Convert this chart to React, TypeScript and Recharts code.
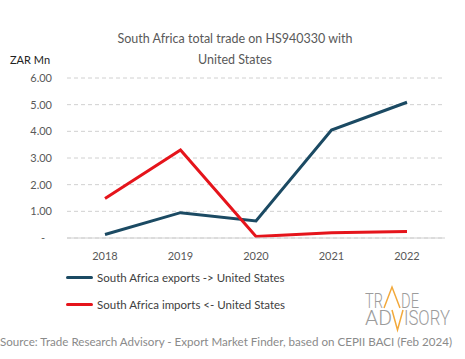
import { CartesianGrid, Line, LineChart, XAxis, YAxis } from "recharts";

const years = ["2018", "2019", "2020", "2021", "2022"];
const exportsToUS = [0.13, 0.95, 0.64, 4.05, 5.09];
const importsFromUS = [1.48, 3.3, 0.06, 0.2, 0.24];
const yTicks = [0, 1, 2, 3, 4, 5, 6];
const seriesNames = [
  "South Africa exports -> United States",
  "South Africa imports <- United States",
];

const EXP_COLOR = "#1b4a63";
const IMP_COLOR = "#e5141b";
const FONT = "Lato, 'Noto Sans', sans-serif";
const TICK_COLOR = "#595959";

const data = years.map((year, i) => ({
  year,
  exports: exportsToUS[i],
  imports: importsFromUS[i],
}));

function YTick(props: any) {
  const { x, y, payload } = props;
  const v = payload.value as number;
  return (
    <text
      x={v === 0 ? x - 7 : x}
      y={y}
      dy="0.35em"
      textAnchor="end"
      fill={TICK_COLOR}
      fontSize={11}
      fontFamily={FONT}
    >
      {v === 0 ? "-" : v.toFixed(2)}
    </text>
  );
}

// small brand mark, bottom right
function Logo() {
  const letter = {
    fontFamily: "Roboto, sans-serif",
    fontWeight: 300,
    fill: "#9c9c9c",
    fontSize: 16,
  };
  return (
    <svg
      width={95}
      height={50}
      style={{ position: "absolute", left: 360, top: 283 }}
    >
      <g transform="scale(1,1.3)">
        <text {...letter} x={5} y={19.2} textLength={18} lengthAdjust="spacingAndGlyphs">
          TR
        </text>
        <text {...letter} x={41} y={19.2} textLength={18} lengthAdjust="spacingAndGlyphs">
          DE
        </text>
        <text {...letter} x={5} y={32} textLength={27} lengthAdjust="spacingAndGlyphs">
          AD
        </text>
        <text {...letter} x={44} y={32} textLength={46} lengthAdjust="spacingAndGlyphs">
          ISORY
        </text>
      </g>
      <polyline
        points="24,25 32,4 40,25"
        fill="none"
        stroke="#f2a93b"
        strokeWidth={1.5}
      />
      <polyline
        points="32,27 37.5,47 43,27"
        fill="none"
        stroke="#f2a93b"
        strokeWidth={1.5}
      />
    </svg>
  );
}

export default function App() {
  const legendItems = [
    { name: seriesNames[0], color: EXP_COLOR },
    { name: seriesNames[1], color: IMP_COLOR },
  ];
  return (
    <div
      style={{
        position: "absolute",
        left: 0,
        top: 0,
        width: 465,
        height: 359,
        background: "#fff",
        fontFamily: FONT,
      }}
    >
      <div
        style={{
          position: "absolute",
          left: 0,
          width: 470,
          top: 28,
          textAlign: "center",
          fontSize: 12.5,
          color: "#595959",
          lineHeight: "21px",
        }}
      >
        South Africa total trade on HS940330 with
        <br />
        United States
      </div>
      <div
        style={{
          position: "absolute",
          left: 10,
          top: 53,
          fontSize: 11,
          color: "#222",
        }}
      >
        ZAR Mn
      </div>
      <LineChart
        width={465}
        height={359}
        data={data}
        margin={{ top: 78, right: 20, left: 0, bottom: 91 }}
      >
        <CartesianGrid
          vertical={false}
          stroke="#d0d0d0"
          strokeDasharray="4 3"
        />
        <XAxis
          dataKey="year"
          axisLine={{ stroke: "#d0d0d0" }}
          tickLine={false}
          tickSize={0}
          tickMargin={14}
          height={30}
          padding={{ left: 38, right: 38 }}
          tick={{ fill: TICK_COLOR, fontSize: 11, fontFamily: FONT }}
        />
        <YAxis
          domain={[0, 6]}
          ticks={yTicks}
          width={67}
          axisLine={false}
          tickLine={false}
          tickSize={0}
          tickMargin={15}
          tick={<YTick />}
        />
        <Line
          name={seriesNames[0]}
          dataKey="exports"
          stroke={EXP_COLOR}
          strokeWidth={3}
          dot={false}
          isAnimationActive={false}
        />
        <Line
          name={seriesNames[1]}
          dataKey="imports"
          stroke={IMP_COLOR}
          strokeWidth={3}
          dot={false}
          isAnimationActive={false}
        />
      </LineChart>
      <div
        style={{
          position: "absolute",
          left: 66,
          top: 264,
          fontSize: 11.5,
          color: "#404040",
        }}
      >
        {legendItems.map((it) => (
          <div
            key={it.name}
            style={{ display: "flex", alignItems: "center", height: 27 }}
          >
            <span
              style={{
                display: "inline-block",
                width: 27,
                height: 3,
                borderRadius: 2,
                background: it.color,
                marginRight: 4,
              }}
            />
            <span>{it.name}</span>
          </div>
        ))}
      </div>
      <Logo />
      <div
        style={{
          position: "absolute",
          left: 0,
          top: 335,
          fontSize: 11.6,
          color: "#8a8a8a",
          whiteSpace: "nowrap",
        }}
      >
        Source: Trade Research Advisory - Export Market Finder, based on CEPII
        BACI (Feb 2024)
      </div>
    </div>
  );
}
